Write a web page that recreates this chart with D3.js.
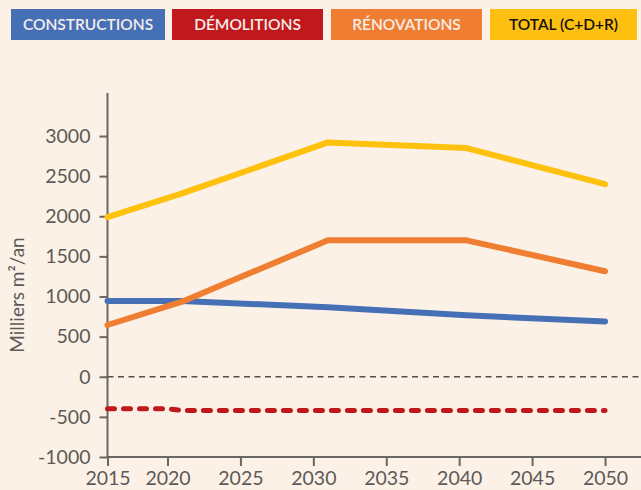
<!DOCTYPE html>
<html>
<head>
<meta charset="utf-8">
<script src="https://cdn.jsdelivr.net/npm/d3@7"></script>
<style>
  html, body { margin: 0; padding: 0; background: #fcf1e6; }
  svg { display: block; font-family: Lato, "Open Sans", sans-serif; }
</style>
</head>
<body>
<svg id="chart" width="641" height="490"></svg>
<script>
// Surfaces du parc (milliers de m² par an)
const years = [2015, 2021, 2031, 2040.5, 2050];
const constructions = [945, 945, 865, 765, 690];
const renovations = [645, 935, 1700, 1700, 1315];
const total = [1990, 2285, 2920, 2850, 2400];
const demolitionYears = [2015, 2020, 2021, 2031, 2040.5, 2050];
const demolitions = [-400, -400, -420, -420, -420, -420];

const xTicks = [2015, 2020, 2025, 2030, 2035, 2040, 2045, 2050];
const yTicks = [-1000, -500, 0, 500, 1000, 1500, 2000, 2500, 3000];

const legendLabels = ["CONSTRUCTIONS", "DÉMOLITIONS", "RÉNOVATIONS", "TOTAL (C+D+R)"];
const legendColors = ["#4670b6", "#c0181c", "#ef7e33", "#fdc010"];
const legendText = ["#f6eeea", "#f6eeea", "#f6eeea", "#151010"];

const svg = d3.select("#chart");
svg.append("rect").attr("width", 641).attr("height", 490).attr("fill", "#fcf1e6");

// Axe horizontal : 2015 est posé à l'origine, puis échelle régulière dès 2020
const x = d3.scaleLinear().domain([2015, 2020, 2052.5]).range([107.5, 167.5, 641.5]);
const y = d3.scaleLinear().domain([-1000, 3536]).range([457, 93]);
const xEnd = x.range()[x.range().length - 1];

const axisColor = "#6a6664";
const labelColor = "#5d5958";
const fmt = d => String(d);

// Légende
const legendX = [11, 172, 331, 490];
const legendW = [154, 151, 151, 147];
const lg = svg.append("g");
legendLabels.forEach((lab, i) => {
  lg.append("rect").attr("x", legendX[i]).attr("y", 9).attr("width", legendW[i]).attr("height", 31)
    .attr("fill", legendColors[i]);
  lg.append("text").attr("x", legendX[i] + legendW[i] / 2).attr("y", 30)
    .attr("text-anchor", "middle").attr("font-size", 15.5).attr("font-weight", 600)
    .attr("fill", legendText[i]).text(lab);
});

// Axe Y
const yAxis = svg.append("g").attr("transform", `translate(${x(2015)},0)`)
  .call(d3.axisLeft(y).tickValues(yTicks).tickSize(8).tickPadding(9).tickFormat(fmt));
yAxis.select(".domain").attr("stroke", axisColor).attr("stroke-width", 2)
  .attr("d", `M0,${y.range()[1]}V${y.range()[0]}`);
yAxis.selectAll(".tick line").attr("stroke", axisColor).attr("stroke-width", 2);
yAxis.selectAll(".tick text").attr("fill", labelColor).attr("font-size", 19.5)
  .attr("font-family", "Lato, sans-serif");

// Axe X
const xAxis = svg.append("g").attr("transform", `translate(0,${y(-1000)})`)
  .call(d3.axisBottom(x).tickValues(xTicks).tickSize(9).tickPadding(5).tickFormat(fmt));
xAxis.select(".domain").attr("stroke", axisColor).attr("stroke-width", 2)
  .attr("d", `M${x.range()[0]},0H${xEnd}`);
xAxis.selectAll(".tick line").attr("stroke", axisColor).attr("stroke-width", 2);
xAxis.selectAll(".tick text").attr("fill", labelColor).attr("font-size", 19.5)
  .attr("font-family", "Lato, sans-serif");

// Ligne du zéro
svg.append("line")
  .attr("x1", x(2015)).attr("x2", xEnd)
  .attr("y1", y(0)).attr("y2", y(0))
  .attr("stroke", "#55514f").attr("stroke-width", 1.5).attr("stroke-dasharray", "6 4.5");

// Titre de l'axe Y
svg.append("text")
  .attr("transform", `translate(24,${295}) rotate(-90)`)
  .attr("text-anchor", "middle").attr("font-size", 19).attr("fill", labelColor)
  .text("Milliers m²/an");

const line = d3.line().x(d => x(d[0])).y(d => y(d[1]));

function drawSeries(xs, vals, color, width, dash) {
  const p = svg.append("path")
    .datum(xs.map((yr, i) => [yr, vals[i]]))
    .attr("d", line)
    .attr("fill", "none").attr("stroke", color).attr("stroke-width", width)
    .attr("stroke-linecap", "round").attr("stroke-linejoin", "round");
  if (dash) p.attr("stroke-dasharray", dash);
}

drawSeries(demolitionYears, demolitions, "#c0181c", 5, "7 9");
drawSeries(years, constructions, "#4570b6", 6);
drawSeries(years, renovations, "#ef7e33", 6);
drawSeries(years, total, "#fec20e", 6);
</script>
</body>
</html>
